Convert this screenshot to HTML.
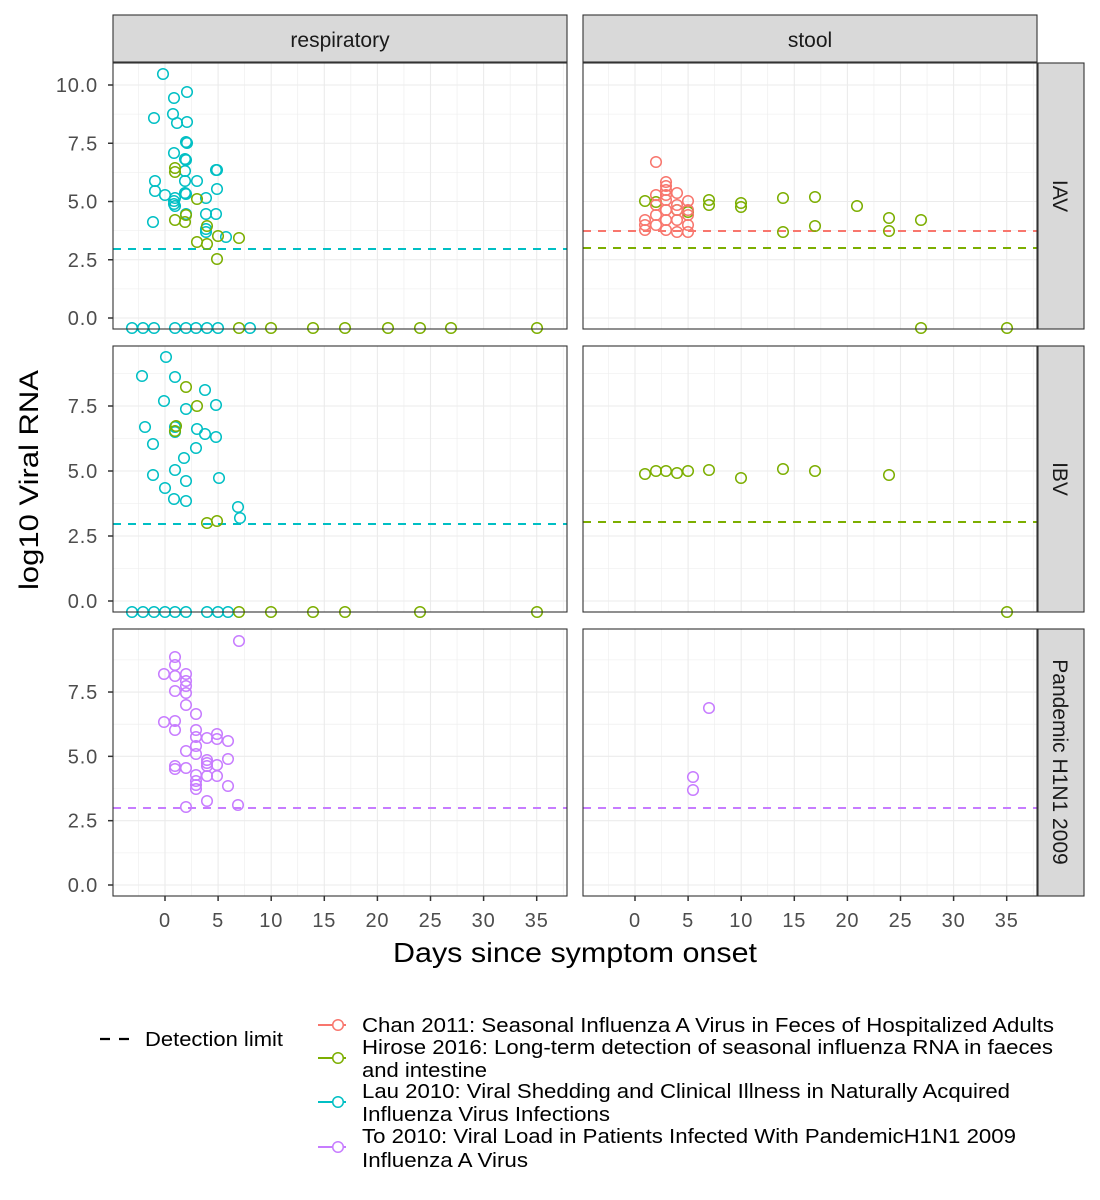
<!DOCTYPE html>
<html><head><meta charset="utf-8"><style>
body{margin:0;background:#fff}
svg{display:block;font-family:"Liberation Sans",sans-serif}
</style></head><body>
<svg id="s" width="1100" height="1200" xmlns="http://www.w3.org/2000/svg"></svg>
<script>
const s=document.getElementById('s');let h='';
const R='#F8766D',G='#7CAE00',C='#00BFC4',P='#C77CFF';
const cols=[[113,567,165],[583,1037,635]];
const rows=[[63,329,318,23.3,[0,2.5,5,7.5,10]],[346,612,601,26,[0,2.5,5,7.5]],[629,896,885,25.73,[0,2.5,5,7.5]]];
const px=10.62;
rows.forEach((r,ri)=>{cols.forEach(c=>{
 h+=`<rect x="${c[0]}" y="${r[0]}" width="${c[1]-c[0]}" height="${r[1]-r[0]}" fill="#fff"/>`;
 for(let v=-5;v<=40;v+=2.5){const x=c[2]+v*px;if(x<=c[0]||x>=c[1])continue;const maj=v%5==0&&v>=0;
  h+=`<line x1="${x}" x2="${x}" y1="${r[0]}" y2="${r[1]}" stroke="#ebebeb" stroke-width="${maj?1.1:0.55}"/>`;}
 for(let v=-1.25;v<=11;v+=1.25){const y=r[2]-v*r[3];if(y<=r[0]||y>=r[1])continue;const maj=(v/2.5)%1==0;
  h+=`<line x1="${c[0]}" x2="${c[1]}" y1="${y}" y2="${y}" stroke="#ebebeb" stroke-width="${maj?1.1:0.55}"/>`;}
});
 r[4].forEach(v=>{const y=r[2]-v*r[3];h+=`<line x1="108" x2="113" y1="${y}" y2="${y}" stroke="#333" stroke-width="1.5"/><text x="98" y="${y+7}" font-size="20" letter-spacing="0.8" fill="#4d4d4d" text-anchor="end">${v.toFixed(1)}</text>`;});
});
function dl(x1,x2,y,c){h+=`<line x1="${x1}" x2="${x2}" y1="${y}" y2="${y}" stroke="${c}" stroke-width="2" stroke-dasharray="8,7"/>`;}
dl(113,567,249,C);dl(583,1037,231,R);dl(583,1037,248,G);dl(113,567,524,C);dl(583,1037,522,G);dl(113,567,808,P);dl(583,1037,808,P);
function pts(col,arr){for(let i=0;i<arr.length;i+=2)h+=`<circle cx="${arr[i]}" cy="${arr[i+1]}" r="5.3" fill="none" stroke="${col}" stroke-width="1.5"/>`;}
pts(C,[163,74,174,98,187,92,154,118,173,114,177,123,187,122,186,142,187,143,174,153,185,159,186,160,185,171,155,181,185,181,197,181,216,170,217,170,155,191,185,193,217,189,165,195,175,198,174,201,174,204,175,206,206,198,186,194,153,222,186,214,206,214,216,214,206,229,206,232,226,237,
132,328,143,328,154,328,175,328,186,328,196,328,207,328,218,328,250,328]);
pts(G,[175,168,175,172,175,220,185,222,197,199,186,215,197,242,207,244,217,259,218,236,239,238,207,226,239,328,271,328,313,328,345,328,388,328,420,328,451,328,537,328]);
pts(G,[645,201,656,202,677,210,688,212,709,200,709,205,741,203,741,207,783,198,815,197,857,206,889,218,889,231,921,220,783,232,815,226,921,328,1007,328]);
pts(R,[656,162,666,182,666,186,666,190,666,195,656,195,677,193,688,201,645,220,645,225,645,230,656,215,656,225,666,210,666,220,666,230,677,205,677,220,677,232,688,215,688,225,688,232,656,205,666,200,677,210,688,210]);
pts(C,[166,357,142,376,175,377,205,390,164,401,186,409,216,405,145,427,175,427,175,432,205,434,197,429,153,444,216,437,196,448,184,458,153,475,175,470,186,481,165,488,174,499,186,501,219,478,238,507,240,518,132,612,143,612,154,612,165,612,175,612,186,612,207,612,218,612,228,612]);
pts(G,[186,387,197,406,175,431,176,426,207,523,217,521,239,612,271,612,313,612,345,612,420,612,537,612]);
pts(G,[645,474,656,471,666,471,677,473,688,471,709,470,741,478,783,469,815,471,889,475,1007,612]);
pts(P,[239,641,175,657,175,665,164,674,175,676,186,674,186,681,186,686,175,691,186,693,186,705,196,714,164,722,175,721,175,730,196,730,196,737,207,738,217,734,228,741,196,746,186,751,196,754,217,739,207,760,207,763,207,766,228,759,175,766,175,769,186,768,196,775,217,765,207,776,217,776,196,781,196,785,196,789,228,786,207,801,186,807,238,805,709,708,693,777,693,790]);
rows.forEach(r=>{cols.forEach(c=>{h+=`<rect x="${c[0]}" y="${r[0]}" width="${c[1]-c[0]}" height="${r[1]-r[0]}" fill="none" stroke="#333" stroke-width="1.1"/>`;});
 h+=`<rect x="1038" y="${r[0]}" width="46" height="${r[1]-r[0]}" fill="#d9d9d9" stroke="#333" stroke-width="1.1"/>`;});
[['respiratory',113,567],['stool',583,1037]].forEach(t=>{h+=`<rect x="${t[1]}" y="15" width="${t[2]-t[1]}" height="47" fill="#d9d9d9" stroke="#333" stroke-width="1.1"/><text x="${(t[1]+t[2])/2}" y="47" font-size="21" fill="#1a1a1a" text-anchor="middle">${t[0]}</text>`;});
[['IAV',196],['IBV',479],['Pandemic H1N1 2009',762]].forEach(t=>{h+=`<text transform="translate(1053,${t[1]}) rotate(90)" font-size="21" fill="#1a1a1a" text-anchor="middle">${t[0]}</text>`;});
cols.forEach(c=>{for(let v=0;v<=35;v+=5){const x=c[2]+v*px;h+=`<line x1="${x}" x2="${x}" y1="896" y2="901" stroke="#333" stroke-width="1.5"/><text x="${x}" y="927" font-size="20" letter-spacing="0.8" fill="#4d4d4d" text-anchor="middle">${v}</text>`;}});
h+=`<text x="393" y="962" font-size="28" textLength="364" lengthAdjust="spacingAndGlyphs">Days since symptom onset</text>`;
h+=`<text transform="translate(38,590) rotate(-90)" font-size="27" textLength="220" lengthAdjust="spacingAndGlyphs">log10 Viral RNA</text>`;
h+=`<line x1="100" x2="137" y1="1039" y2="1039" stroke="#000" stroke-width="2.2" stroke-dasharray="10,9"/><text x="145" y="1046" font-size="20" textLength="138" lengthAdjust="spacingAndGlyphs">Detection limit</text>`;
[[R,1025],[G,1058],[C,1102],[P,1147]].forEach(l=>{h+=`<line x1="318" x2="346" y1="${l[1]}" y2="${l[1]}" stroke="${l[0]}" stroke-width="2"/><circle cx="338" cy="${l[1]}" r="5.3" fill="#fff" stroke="${l[0]}" stroke-width="1.5"/>`;});
[['Chan 2011: Seasonal Influenza A Virus in Feces of Hospitalized Adults',692],['Hirose 2016: Long-term detection of seasonal influenza RNA in faeces',691],['and intestine',125],['Lau 2010: Viral Shedding and Clinical Illness in Naturally Acquired',648],['Influenza Virus Infections',248],['To 2010: Viral Load in Patients Infected With PandemicH1N1 2009',654],['Influenza A Virus',166]].forEach((t,i)=>{const y=[1032,1054,1077,1098,1121,1143,1167][i];h+=`<text x="362" y="${y}" font-size="20" textLength="${t[1]}" lengthAdjust="spacingAndGlyphs">${t[0]}</text>`;});
s.innerHTML=h;
</script>
</body></html>
